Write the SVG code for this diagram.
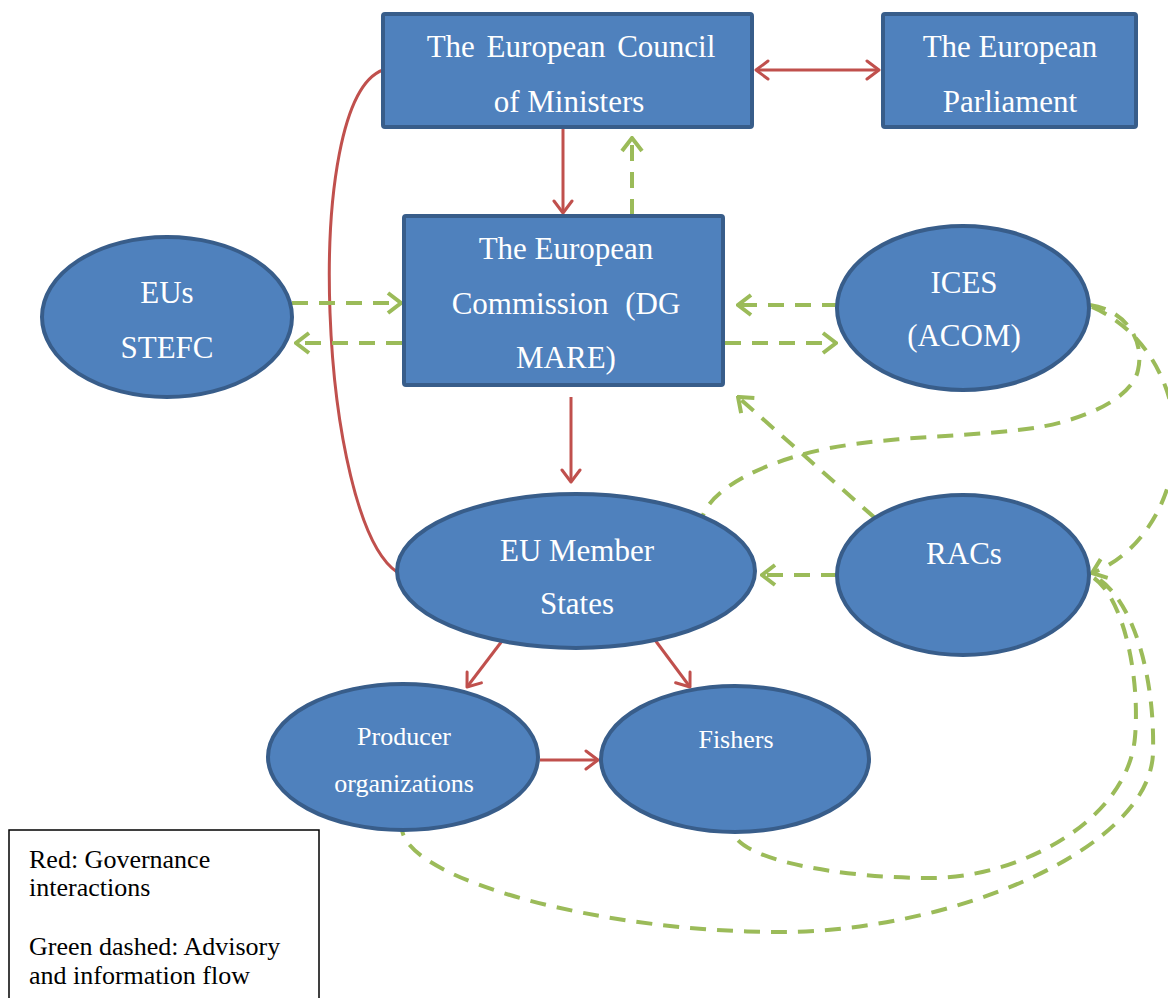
<svg xmlns="http://www.w3.org/2000/svg" width="1168" height="998" viewBox="0 0 1168 998">
<defs>
<style>
.box{fill:#4F81BD;stroke:#385D8A;stroke-width:4}
text{font-family:"Liberation Serif","Times New Roman",serif}
.t{font-size:31px;fill:#FFFFFF;text-anchor:middle}
.ts{font-size:26px;fill:#FFFFFF;text-anchor:middle}
.lg{font-size:26px;fill:#000000}
.red{fill:none;stroke:#C0504D;stroke-width:3}
.grn{fill:none;stroke:#9BBB59;stroke-width:4;stroke-dasharray:16 11}
</style>
<marker id="ar" viewBox="-14 -11 16 22" refX="0" refY="0" markerWidth="16" markerHeight="22" markerUnits="userSpaceOnUse" orient="auto-start-reverse">
<path d="M-12,-9 L0,0 L-12,9" fill="none" stroke="#C0504D" stroke-width="3" stroke-linecap="round" stroke-linejoin="round"/>
</marker>
<marker id="ag" viewBox="-16 -12 18 24" refX="0" refY="0" markerWidth="18" markerHeight="24" markerUnits="userSpaceOnUse" orient="auto">
<path d="M-13,-10 L0,0 L-13,10" fill="none" stroke="#9BBB59" stroke-width="4" stroke-linejoin="miter"/>
</marker>
</defs>
<rect width="1168" height="998" fill="#FFFFFF"/>

<g id="connectors">
<path class="red" d="M383,70 C300,100 320,520 397,572"/>
<path class="red" d="M563,128 L563,213" marker-end="url(#ar)"/>
<path class="red" d="M571,397 L571,482" marker-end="url(#ar)"/>
<path class="red" d="M756,70 L879,70" marker-start="url(#ar)" marker-end="url(#ar)"/>
<path class="red" d="M502,641 L467,687" marker-end="url(#ar)"/>
<path class="red" d="M655,640 L690,687" marker-end="url(#ar)"/>
<path class="red" d="M540,760 L598,760" marker-end="url(#ar)"/>

<path class="grn" d="M632,215 L632,138" marker-end="url(#ag)"/>
<path class="grn" d="M292,303 L401,303" marker-end="url(#ag)"/>
<path class="grn" d="M402,343 L296,343" marker-end="url(#ag)"/>
<path class="grn" d="M838,305 L738,305" marker-end="url(#ag)"/>
<path class="grn" d="M725,343 L836,343" marker-end="url(#ag)"/>
<path class="grn" d="M837,575 L762,575" marker-end="url(#ag)"/>
<path class="grn" d="M875,518 L738,397" marker-end="url(#ag)"/>
<path class="grn" d="M1090,305 C1125,310 1145,340 1138,370 C1132,400 1080,420 1040,427 C980,437 900,435 830,448 C760,462 710,490 702,518"/>
<path class="grn" d="M1092,307 C1145,330 1175,385 1175,440 C1175,500 1140,555 1092,573" marker-end="url(#ag)"/>
<path class="grn" d="M1094,578 C1125,600 1140,680 1135,737 C1128,820 1020,878 930,878 C840,878 740,860 733,832"/>
<path class="grn" d="M1100,580 C1135,605 1155,680 1153,753 C1150,850 950,932 780,932 C600,932 410,880 402,830"/>
</g>

<g id="council">
<rect class="box" x="383" y="14" width="369" height="113" rx="2"/>
<text class="t" x="571" y="57" word-spacing="4">The European Council</text>
<text class="t" x="569" y="112">of Ministers</text>
</g>
<g id="parliament">
<rect class="box" x="883" y="14" width="253" height="113" rx="2"/>
<text class="t" x="1010" y="57">The European</text>
<text class="t" x="1010" y="112">Parliament</text>
</g>
<g id="commission">
<rect class="box" x="404" y="216" width="319" height="169" rx="2"/>
<text class="t" x="566" y="259">The European</text>
<text class="t" x="566" y="314" word-spacing="9">Commission (DG</text>
<text class="t" x="566" y="368">MARE)</text>
</g>
<g id="stefc">
<ellipse class="box" cx="167" cy="317" rx="125" ry="80"/>
<text class="t" x="167" y="303">EUs</text>
<text class="t" x="167" y="358">STEFC</text>
</g>
<g id="ices">
<ellipse class="box" cx="963" cy="308" rx="126" ry="82"/>
<text class="t" x="964" y="293">ICES</text>
<text class="t" x="964" y="346">(ACOM)</text>
</g>
<g id="memberstates">
<ellipse class="box" cx="576" cy="571" rx="179" ry="77"/>
<text class="t" x="577" y="561">EU Member</text>
<text class="t" x="577" y="614">States</text>
</g>
<g id="racs">
<ellipse class="box" cx="963" cy="575" rx="126" ry="80"/>
<text class="t" x="964" y="564">RACs</text>
</g>
<g id="producers">
<ellipse class="box" cx="403" cy="757" rx="135" ry="73"/>
<text class="ts" x="404" y="745">Producer</text>
<text class="ts" x="404" y="792">organizations</text>
</g>
<g id="fishers">
<ellipse class="box" cx="735" cy="759" rx="134" ry="73"/>
<text class="ts" x="736" y="748">Fishers</text>
</g>

<g id="legend">
<rect x="9" y="830" width="310" height="180" fill="#FFFFFF" stroke="#000000" stroke-width="1.5"/>
<text class="lg" x="29" y="868">Red: Governance</text>
<text class="lg" x="29" y="896">interactions</text>
<text class="lg" x="29" y="955">Green dashed: Advisory</text>
<text class="lg" x="29" y="984">and information flow</text>
</g>
</svg>
